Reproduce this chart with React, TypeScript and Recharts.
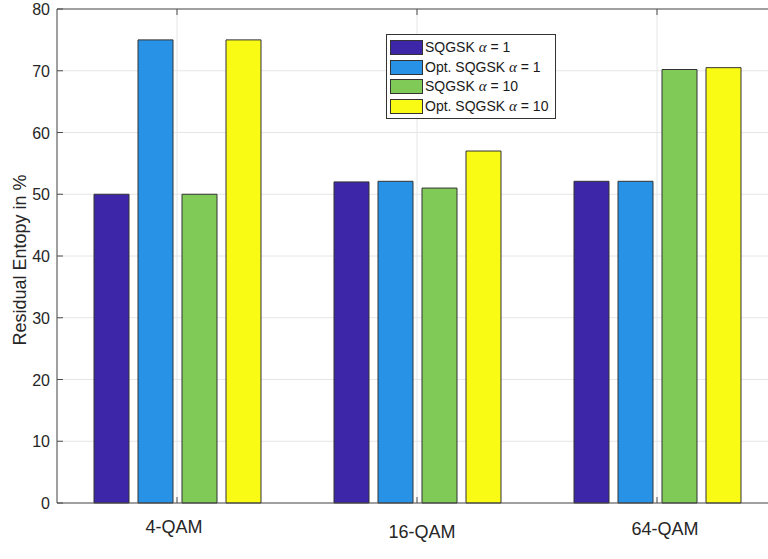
import React from 'react';
import {
  Bar,
  BarChart,
  CartesianGrid,
  ReferenceLine,
  XAxis,
  YAxis,
} from 'recharts';

const categories = ['4-QAM', '16-QAM', '64-QAM'];
const sqgskA1 = [50, 52, 52.1];
const optSqgskA1 = [75, 52.1, 52.1];
const sqgskA10 = [50, 51, 70.2];
const optSqgskA10 = [75, 57, 70.5];
const yTicks = [0, 10, 20, 30, 40, 50, 60, 70, 80];

const series = [
  { key: 'sqgskA1', prefix: 'SQGSK ', suffix: ' = 1', color: '#3e26a8' },
  { key: 'optSqgskA1', prefix: 'Opt. SQGSK ', suffix: ' = 1', color: '#2893e6' },
  { key: 'sqgskA10', prefix: 'SQGSK ', suffix: ' = 10', color: '#80cb58' },
  { key: 'optSqgskA10', prefix: 'Opt. SQGSK ', suffix: ' = 10', color: '#f9fb15' },
];

const data = categories.map((name, i) => ({
  name,
  sqgskA1: sqgskA1[i],
  optSqgskA1: optSqgskA1[i],
  sqgskA10: sqgskA10[i],
  optSqgskA10: optSqgskA10[i],
}));

const FONT = 'Arial, "Liberation Sans", Helvetica, sans-serif';
const AXIS = '#4d4d4d';

// label nudges (labels are not perfectly centred there)
const xLabelShift = [{ dx: -3, dy: 0 }, { dx: 5, dy: 5 }, { dx: 8, dy: 2 }];

function YTick(props: any) {
  const { x, y, payload } = props;
  const axisX = x + 7;
  return (
    <g>
      <line x1={axisX} x2={axisX + 6} y1={y} y2={y} stroke={AXIS} />
      <text x={x} y={y} dy={6} textAnchor="end" fontSize={16} fontFamily={FONT} fill="#262626">
        {payload.value}
      </text>
    </g>
  );
}

function XTick(props: any) {
  const { x, y, payload, index } = props;
  const s = xLabelShift[index] || { dx: 0, dy: 0 };
  return (
    <g>
      <line x1={x} x2={x} y1={y} y2={y - 6} stroke={AXIS} />
      <line x1={x} x2={x} y1={9} y2={15} stroke={AXIS} />
      <text x={x + s.dx} y={y + 30 + s.dy} textAnchor="middle" fontSize={18} fontFamily={FONT} fill="#262626">
        {payload.value}
      </text>
    </g>
  );
}

function LegendBox() {
  return (
    <div
      style={{
        position: 'absolute',
        left: 386,
        top: 34,
        border: '1px solid #333',
        background: '#fff',
        padding: '3px 3px 2px 3px',
        width: 162,
      }}
    >
      {series.map((s) => (
        <div
          key={s.key}
          style={{ display: 'flex', alignItems: 'center', height: 19.5, fontFamily: FONT, fontSize: 14, color: '#1a1a1a', whiteSpace: 'nowrap' }}
        >
          <span
            style={{
              display: 'inline-block',
              width: 31,
              height: 13,
              background: s.color,
              border: '1px solid #333',
              marginRight: 2,
            }}
          />
          <span>
            {s.prefix}
            <span style={{ fontFamily: '"Liberation Serif", "DejaVu Serif", serif', fontStyle: 'italic', fontSize: 15 }}>α</span>
            {s.suffix}
          </span>
        </div>
      ))}
    </div>
  );
}

export default function App() {
  return (
    <div style={{ position: 'absolute', left: 0, top: 0, width: 768, height: 559, overflow: 'hidden', background: '#fff' }}>
      <BarChart
        width={790}
        height={559}
        data={data}
        margin={{ top: 9, right: 13, bottom: 26, left: 0 }}
        barSize={35}
        barGap={9}
      >
        <CartesianGrid stroke="#e6e6e6" />
        <XAxis
          dataKey="name"
          height={30}
          stroke={AXIS}
          tickLine={false}
          tickSize={0}
          tickMargin={0}
          tick={<XTick />}
          interval={0}
        />
        <YAxis
          width={57}
          domain={[0, 80]}
          ticks={yTicks}
          interval={0}
          stroke={AXIS}
          tickLine={false}
          tickSize={0}
          tickMargin={7}
          tick={<YTick />}
          label={{
            value: 'Residual Entopy in %',
            angle: -90,
            position: 'insideLeft',
            dx: 15,
            dy: 4,
            style: { fontSize: 18, fontFamily: FONT, fill: '#262626', textAnchor: 'middle' },
          }}
        />
        <ReferenceLine y={80} stroke={AXIS} ifOverflow="visible" />
        {series.map((s) => (
          <Bar
            key={s.key}
            dataKey={s.key}
            fill={s.color}
            stroke="#333"
            strokeWidth={1}
            isAnimationActive={false}
          />
        ))}
      </BarChart>
      <LegendBox />
    </div>
  );
}
